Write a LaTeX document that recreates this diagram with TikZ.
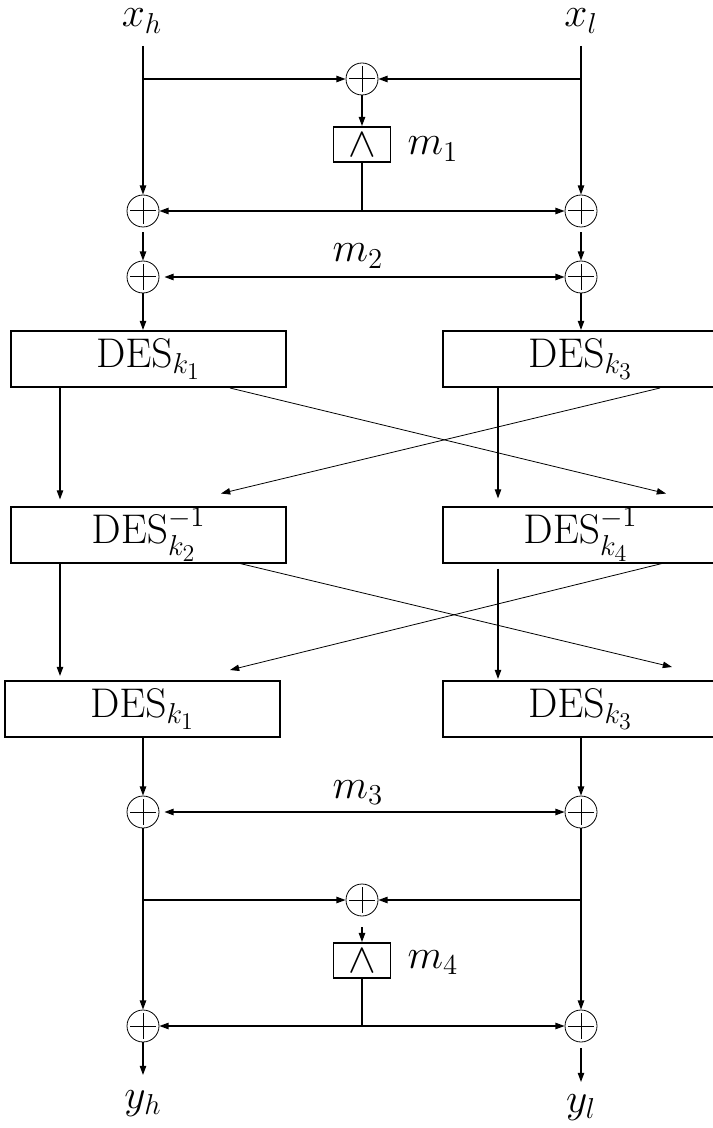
\documentclass[tikz,border=0pt]{standalone}
\usepackage{amsmath,amssymb}
\usepackage{tikz}
\usetikzlibrary{calc,arrows.meta,positioning}
\tikzset{
  ar/.style={-{Triangle[length=4.6pt,width=3.2pt]},line width=0.65pt},
  arb/.style={{Triangle[length=4.6pt,width=3.2pt]}-{Triangle[length=4.6pt,width=3.2pt]},line width=0.65pt},
  xar/.style={-{Triangle[length=4.6pt,width=3.2pt]},line width=0.4pt},
  desbox/.style={draw,line width=1pt,minimum width=137.5pt,minimum height=28pt,inner sep=0pt,font=\huge},
  andbox/.style={draw,line width=0.9pt,minimum width=28.5pt,minimum height=17.5pt,inner sep=0pt},
  xorc/.style={circle,draw,line width=0.4pt,minimum size=16pt,inner sep=0pt,
    path picture={\draw[line width=0.5pt]
      ([yshift=-1.5pt]path picture bounding box.north) -- ([yshift=1.5pt]path picture bounding box.south)
      ([xshift=1.5pt]path picture bounding box.west) -- ([xshift=-1.5pt]path picture bounding box.east);}},
  lbl/.style={font=\huge,inner sep=0pt,anchor=base}
}
\begin{document}
\begin{tikzpicture}[x=0.5pt,y=-0.5pt]
\useasboundingbox (0,0) rectangle (712,1128);
% inputs
\node[lbl] (xh) at (142,27) {$x_h$};
\node[lbl] (xl) at (581,27) {$x_l$};
\coordinate (ih) at (143,46);
\coordinate (il) at (581,46);
% whitening m1, m2
\node[xorc] (x0) at (362,79) {};
\node[andbox] (a1) at (362,144.5) {\huge$\wedge$};
\node[lbl] (m1) at (433,155) {$m_1$};
\node[xorc] (x1h) at (143,211) {};
\node[xorc] (x1l) at (581,211) {};
\node[lbl] (m2) at (358,262) {$m_2$};
\node[xorc] (x2h) at (143,277) {};
\node[xorc] (x2l) at (581,277) {};
\draw[ar] (ih) -- (x1h);
\draw[ar] (il) -- (x1l);
\draw[ar] (ih |- x0) -- (x0);
\draw[ar] (il |- x0) -- (x0);
\draw[ar] (x0) -- (a1);
\draw[line width=0.65pt] (a1.south) -- (a1.south |- x1h) coordinate (j1);
\draw[ar] (j1) -- (x1h);
\draw[ar] (j1) -- (x1l);
\draw[ar,shorten <=2.5pt] (x1h) -- (x2h);
\draw[ar,shorten <=2.5pt] (x1l) -- (x2l);
\draw[arb,shorten <=2.5pt] (x2h) -- (x2l);
% des layers
\node[desbox] (d1) at (148.5,359) {$\mathrm{DES}_{k_1}$};
\node[desbox] (d3) at (580.5,359) {$\mathrm{DES}_{k_3}$};
\node[desbox] (d2) at (148.5,534.5) {$\mathrm{DES}^{-1}_{k_2}$};
\node[desbox] (d4) at (580.5,534.5) {$\mathrm{DES}^{-1}_{k_4}$};
\node[desbox] (d5) at (142.5,709) {$\mathrm{DES}_{k_1}$};
\node[desbox] (d6) at (580.5,709) {$\mathrm{DES}_{k_3}$};
\draw[ar] (x2h) -- (x2h |- d1.north);
\draw[ar] (x2l) -- (x2l |- d3.north);
\draw[ar] ($(d1.south west)+(50,0)$) -- ($(d2.north west)+(50,-6)$);
\draw[ar] ($(d3.south west)+(56,0)$) -- ($(d4.north west)+(56,-7)$);
\draw[xar] ($(d1.south)+(81.5,0)$) -- ($(d4.north)+(85.5,-12)$);
\draw[xar] ($(d3.south)+(79.5,0)$) -- ($(d2.north)+(72.5,-12)$);
\draw[ar] ($(d2.south west)+(50,0)$) -- ($(d5.north west)+(56,-4)$);
\draw[ar] ($(d4.south west)+(56,5)$) -- ($(d6.north west)+(56,-1)$);
\draw[xar] ($(d2.south)+(91.5,0)$) -- ($(d6.north)+(91.5,-13)$);
\draw[xar] ($(d4.south)+(81.5,0)$) -- ($(d5.north)+(87.5,-10)$);
% whitening m3, m4
\node[xorc] (x3h) at (143,812) {};
\node[xorc] (x3l) at (581,812) {};
\node[lbl] (m3) at (358,798) {$m_3$};
\node[xorc] (x4) at (362,900) {};
\node[andbox] (a2) at (362,960.5) {\huge$\wedge$};
\node[lbl] (m4) at (433,968) {$m_4$};
\node[xorc] (x5h) at (143,1026) {};
\node[xorc] (x5l) at (581,1026) {};
\draw[ar] (x3h |- d5.south) -- (x3h);
\draw[ar] (x3l |- d6.south) -- (x3l);
\draw[arb,shorten <=2.5pt] (x3h) -- (x3l);
\draw[ar] (x3h) -- (x5h);
\draw[ar] (x3l) -- (x5l);
\draw[ar] (x3h |- x4) -- (x4);
\draw[ar] (x3l |- x4) -- (x4);
\draw[ar,shorten <=5.5pt] (x4) -- (a2);
\draw[line width=0.65pt] (a2.south) -- (a2.south |- x5h) coordinate (j2);
\draw[ar] (j2) -- (x5h);
\draw[ar] (j2) -- (x5l);
% outputs
\coordinate (oh) at (143,1075);
\coordinate (ol) at (581,1082);
\draw[ar] (x5h) -- (oh);
\draw[ar,shorten <=3pt] (x5l) -- (ol);
\node[lbl] (yh) at (143,1108) {$y_h$};
\node[lbl] (yl) at (581,1112) {$y_l$};
\end{tikzpicture}
\end{document}
